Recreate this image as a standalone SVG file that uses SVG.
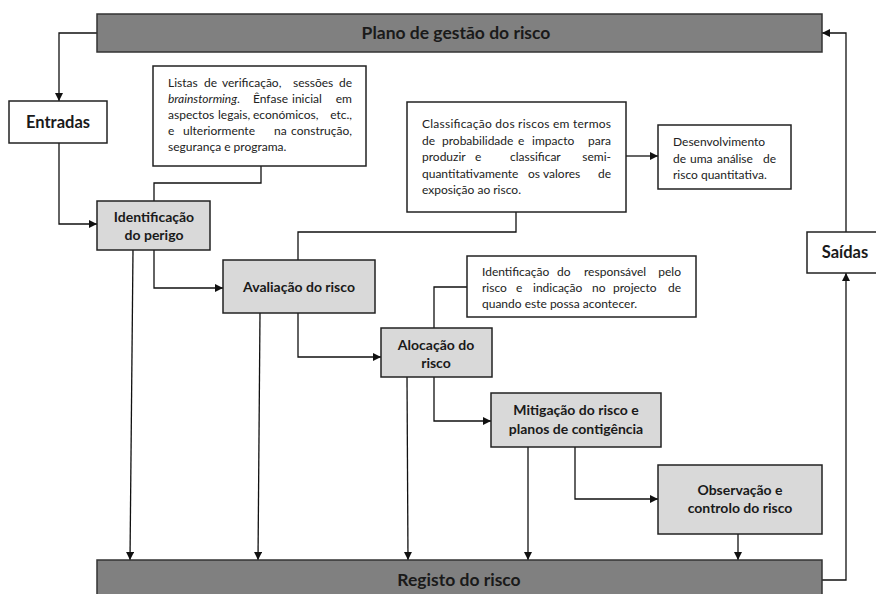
<svg xmlns="http://www.w3.org/2000/svg" width="876" height="594" viewBox="0 0 876 594">
<style>
.bar{fill:#808080;stroke:#333;stroke-width:1.5}
.proc{fill:#d9d9d9;stroke:#222;stroke-width:1.5}
.box{fill:#fff;stroke:#222;stroke-width:1.5}
.lbl{font-family:Lato,"Liberation Sans",sans-serif;font-weight:bold;font-size:14px;fill:#1a1a1a;text-anchor:middle}
.big{font-size:16.5px}
.ttl{font-family:Lato,"Liberation Sans",sans-serif;font-weight:bold;font-size:17.5px;fill:#1a1a1a;text-anchor:middle}
.dsc{font-family:Lato,"Liberation Sans",sans-serif;font-size:12px;fill:#222}
.e{text-anchor:end}
.ln{fill:none;stroke:#111;stroke-width:1.3}
</style>
<defs>
<marker id="ah" viewBox="0 0 10 10" refX="10" refY="5" markerWidth="10" markerHeight="8" markerUnits="userSpaceOnUse" orient="auto">
<path d="M0,0 L10,5 L0,10 Z" fill="#111"/>
</marker>
</defs>
<rect width="876" height="594" fill="#fff"/>

<g id="connectors">
<polyline class="ln" points="97,33 59,33 59,101" marker-end="url(#ah)"/>
<polyline class="ln" points="59,143 59,224 97,224" marker-end="url(#ah)"/>
<polyline class="ln" points="261,166 261,183 154,183 154,201"/>
<polyline class="ln" points="154,250 154,288 223,288" marker-end="url(#ah)"/>
<polyline class="ln" points="298,260 298,232 516,232 516,212"/>
<polyline class="ln" points="626,156 658,156" marker-end="url(#ah)"/>
<polyline class="ln" points="298,313 298,357 381,357" marker-end="url(#ah)"/>
<polyline class="ln" points="434,328 434,287 467,287"/>
<polyline class="ln" points="434,377 434,421 491,421" marker-end="url(#ah)"/>
<polyline class="ln" points="575,447 575,499 658,499" marker-end="url(#ah)"/>
<line class="ln" x1="133" y1="250" x2="130" y2="560" marker-end="url(#ah)"/>
<line class="ln" x1="260" y1="313" x2="258" y2="560" marker-end="url(#ah)"/>
<line class="ln" x1="407" y1="377" x2="408" y2="560" marker-end="url(#ah)"/>
<line class="ln" x1="528" y1="447" x2="528" y2="560" marker-end="url(#ah)"/>
<line class="ln" x1="738" y1="534" x2="738" y2="560" marker-end="url(#ah)"/>
<polyline class="ln" points="822,580 846,580 846,273" marker-end="url(#ah)"/>
<polyline class="ln" points="846,232 846,33 822,33" marker-end="url(#ah)"/>
</g>

<g id="plano">
<rect class="bar" x="97" y="14" width="725" height="38"/>
<text class="ttl" x="456" y="39">Plano de gestão do risco</text>
</g>

<g id="registo">
<rect class="bar" x="97" y="560" width="725" height="40"/>
<text class="ttl" x="459" y="586">Registo do risco</text>
</g>

<g id="entradas">
<rect class="box" x="9" y="101" width="98" height="42"/>
<text class="lbl big" x="58" y="128">Entradas</text>
</g>

<g id="saidas">
<rect class="box" x="807" y="232" width="80" height="41"/>
<text class="lbl big" x="845" y="258">Saídas</text>
</g>

<g id="listas">
<rect class="box" x="153" y="66" width="213" height="100"/>
<text class="dsc" y="87"><tspan x="168">Listas</tspan> <tspan x="204">de</tspan> <tspan x="222">verificação,</tspan> <tspan x="293">sessões</tspan> <tspan x="352" class="e">de</tspan></text>
<text class="dsc" y="103"><tspan x="168" font-style="italic">brainstorming</tspan>. <tspan x="253">Ênfase</tspan> <tspan x="292">inicial</tspan> <tspan x="352" class="e">em</tspan></text>
<text class="dsc" y="119"><tspan x="168">aspectos</tspan> <tspan x="218">legais,</tspan> <tspan x="253">económicos,</tspan> <tspan x="352" class="e">etc.,</tspan></text>
<text class="dsc" y="135"><tspan x="168">e</tspan> <tspan x="183">ulteriormente</tspan> <tspan x="274">na</tspan> <tspan x="352" class="e">construção,</tspan></text>
<text class="dsc" x="168" y="151">segurança e programa.</text>
</g>

<g id="identificacao">
<rect class="proc" x="97" y="201" width="113" height="49"/>
<text class="lbl" x="154" y="222">Identificação</text>
<text class="lbl" x="154" y="240">do perigo</text>
</g>

<g id="avaliacao">
<rect class="proc" x="223" y="260" width="152" height="53"/>
<text class="lbl" x="299" y="292">Avaliação do risco</text>
</g>

<g id="classificacao">
<rect class="box" x="407" y="102" width="219" height="110"/>
<text class="dsc" x="422" y="128" textLength="189" lengthAdjust="spacing">Classificação dos riscos em termos</text>
<text class="dsc" y="145"><tspan x="422">de</tspan> <tspan x="442">probabilidade</tspan> <tspan x="518">e</tspan> <tspan x="532">impacto</tspan> <tspan x="611" class="e">para</tspan></text>
<text class="dsc" y="161"><tspan x="422">produzir</tspan> <tspan x="475">e</tspan> <tspan x="510">classificar</tspan> <tspan x="611" class="e">semi-</tspan></text>
<text class="dsc" y="178"><tspan x="422">quantitativamente</tspan> <tspan x="528">os</tspan> <tspan x="543">valores</tspan> <tspan x="611" class="e">de</tspan></text>
<text class="dsc" x="422" y="194">exposição ao risco.</text>
</g>

<g id="desenvolvimento">
<rect class="box" x="658" y="125" width="133" height="64"/>
<text class="dsc" x="673" y="146">Desenvolvimento</text>
<text class="dsc" y="163"><tspan x="673">de</tspan> <tspan x="690">uma</tspan> <tspan x="717">análise</tspan> <tspan x="776" class="e">de</tspan></text>
<text class="dsc" x="673" y="179">risco quantitativa.</text>
</g>

<g id="responsavel">
<rect class="box" x="467" y="256" width="229" height="61"/>
<text class="dsc" y="276"><tspan x="482">Identificação</tspan> <tspan x="557">do</tspan> <tspan x="584">responsável</tspan> <tspan x="681" class="e">pelo</tspan></text>
<text class="dsc" y="292"><tspan x="482">risco</tspan> <tspan x="516">e</tspan> <tspan x="533">indicação</tspan> <tspan x="592">no</tspan> <tspan x="613">projecto</tspan> <tspan x="681" class="e">de</tspan></text>
<text class="dsc" x="482" y="308">quando este possa acontecer.</text>
</g>

<g id="alocacao">
<rect class="proc" x="381" y="328" width="111" height="49"/>
<text class="lbl" x="436" y="350">Alocação do</text>
<text class="lbl" x="436" y="368">risco</text>
</g>

<g id="mitigacao">
<rect class="proc" x="491" y="393" width="170" height="54"/>
<text class="lbl" x="576" y="415">Mitigação do risco e</text>
<text class="lbl" x="576" y="434">planos de contigência</text>
</g>

<g id="observacao">
<rect class="proc" x="658" y="465" width="164" height="69"/>
<text class="lbl" x="740" y="495">Observação e</text>
<text class="lbl" x="740" y="513">controlo do risco</text>
</g>
</svg>
